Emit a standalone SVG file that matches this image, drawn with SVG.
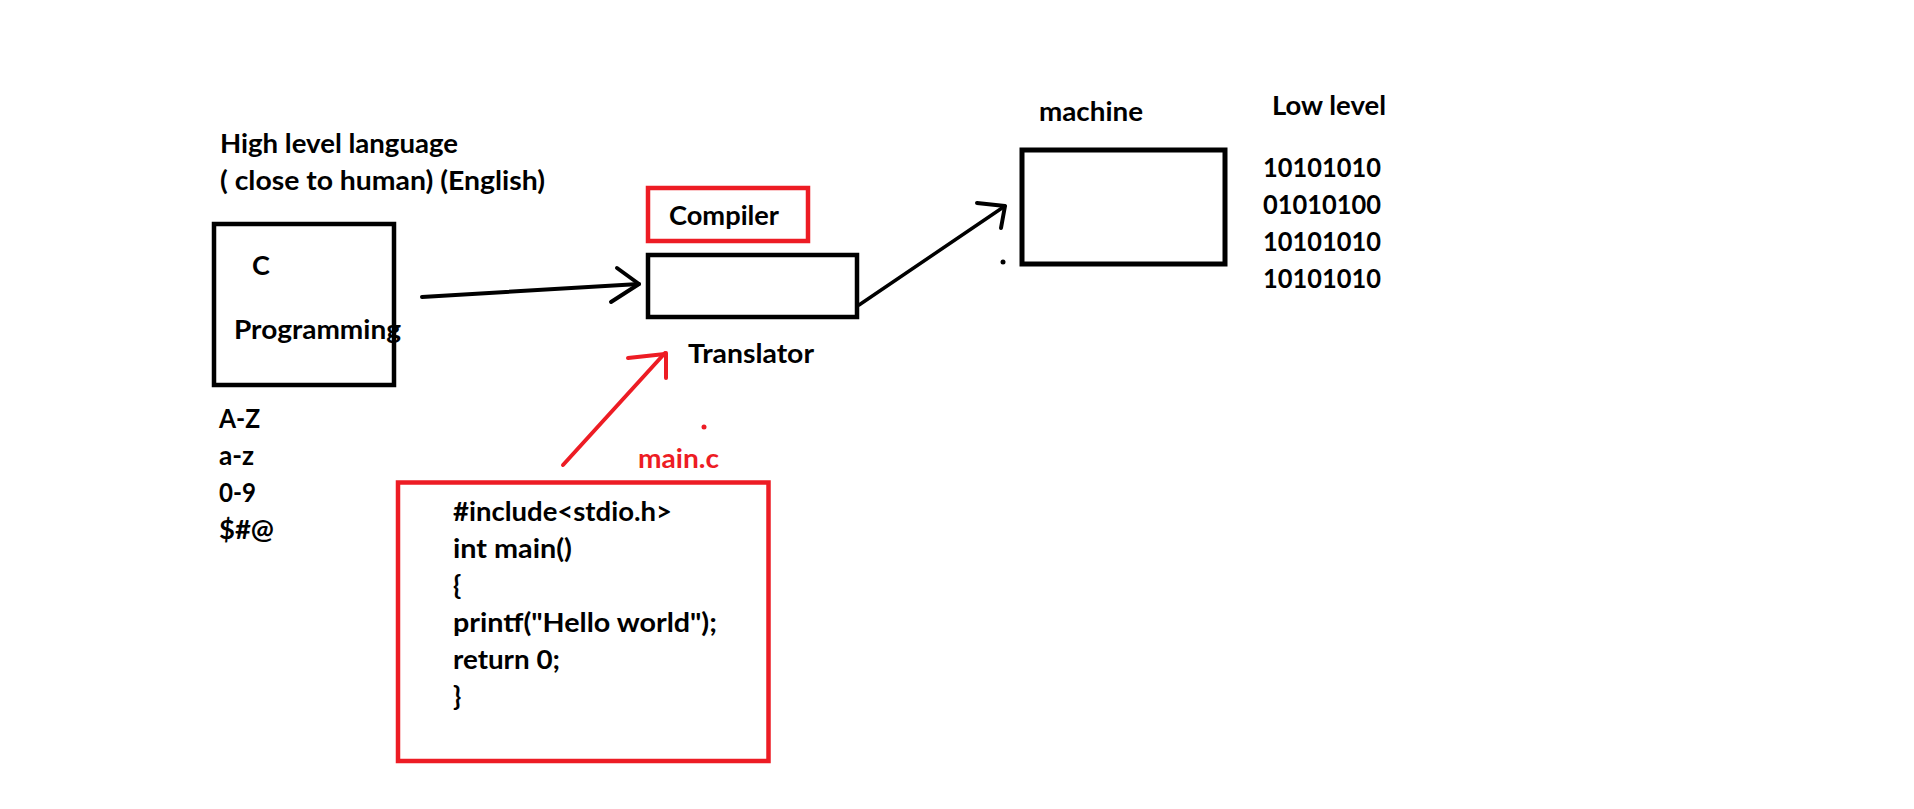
<svg xmlns="http://www.w3.org/2000/svg" width="1914" height="809" viewBox="0 0 1914 809">
<style>
.t{font-family:Lato,"Open Sans","Liberation Sans",sans-serif;font-weight:700;font-size:27px;fill:#000}
.r{fill:#ED1C24}
.bx{fill:none;stroke:#000;stroke-width:4.5}
.rb{fill:none;stroke:#ED1C24;stroke-width:4.5}
.ln{fill:none;stroke:#000;stroke-width:4;stroke-linecap:round;stroke-linejoin:round}
.rl{fill:none;stroke:#ED1C24;stroke-width:4;stroke-linecap:round;stroke-linejoin:round}
</style>
<rect width="1914" height="809" fill="#fff"/>
<g id="high-level-label">
<text class="t" x="220" y="153" textLength="238" lengthAdjust="spacingAndGlyphs">High level language</text>
<text class="t" x="220" y="190" textLength="325" lengthAdjust="spacingAndGlyphs">( close to human) (English)</text>
</g>
<g id="c-programming">
<rect class="bx" x="214" y="224" width="180" height="161"/>
<text class="t" x="252" y="275">C</text>
<text class="t" x="234" y="339" textLength="167" lengthAdjust="spacingAndGlyphs">Programming</text>
</g>
<g id="charset">
<text class="t" x="219" y="428" textLength="41" lengthAdjust="spacingAndGlyphs">A-Z</text>
<text class="t" x="219" y="465" textLength="35" lengthAdjust="spacingAndGlyphs">a-z</text>
<text class="t" x="219" y="502" textLength="37" lengthAdjust="spacingAndGlyphs">0-9</text>
<text class="t" x="219" y="539" textLength="55" lengthAdjust="spacingAndGlyphs">$#@</text>
</g>
<g id="compiler">
<rect class="rb" x="648" y="188" width="160" height="53"/>
<text class="t" x="669" y="225" textLength="110" lengthAdjust="spacingAndGlyphs">Compiler</text>
</g>
<g id="translator">
<rect class="bx" x="648" y="255" width="209" height="62"/>
<text class="t" x="688" y="363" textLength="126" lengthAdjust="spacingAndGlyphs">Translator</text>
</g>
<g id="main-c">
<text class="t r" x="638" y="468" textLength="81" lengthAdjust="spacingAndGlyphs">main.c</text>
<rect class="rb" x="398" y="482.5" width="370.5" height="278.5"/>
<text class="t" x="453" y="521" textLength="219" lengthAdjust="spacingAndGlyphs">#include&lt;stdio.h&gt;</text>
<text class="t" x="453" y="558" textLength="119" lengthAdjust="spacingAndGlyphs">int main()</text>
<text class="t" x="453" y="595">{</text>
<text class="t" x="453" y="632" textLength="264" lengthAdjust="spacingAndGlyphs">printf("Hello world");</text>
<text class="t" x="453" y="669" textLength="107" lengthAdjust="spacingAndGlyphs">return 0;</text>
<text class="t" x="453" y="706">}</text>
</g>
<g id="machine">
<text class="t" x="1039" y="121" textLength="104" lengthAdjust="spacingAndGlyphs">machine</text>
<rect class="bx" x="1022" y="150" width="203" height="114" style="stroke-width:5"/>
</g>
<g id="low-level">
<text class="t" x="1272" y="115" textLength="114" lengthAdjust="spacingAndGlyphs">Low level</text>
<text class="t" x="1263" y="177" textLength="118" lengthAdjust="spacingAndGlyphs">10101010</text>
<text class="t" x="1263" y="214" textLength="118" lengthAdjust="spacingAndGlyphs">01010100</text>
<text class="t" x="1263" y="251" textLength="118" lengthAdjust="spacingAndGlyphs">10101010</text>
<text class="t" x="1263" y="288" textLength="118" lengthAdjust="spacingAndGlyphs">10101010</text>
</g>
<g id="connectors">
<path class="ln" d="M422,297 L639,284"/>
<path class="ln" d="M617,268 L639,284 L611,302"/>
<path class="ln" d="M859,305 L1005,206" style="stroke-width:3.5"/>
<path class="ln" d="M977,203 L1005,206 L1001,228"/>
<path class="rl" d="M563,465 L665,353"/>
<path class="rl" d="M628,358 L665,354"/>
<path class="rl" d="M666,353 L666,378"/>
</g>
<g id="dots">
<circle cx="1003" cy="262" r="2.5" fill="#000"/>
<circle cx="704" cy="427" r="2.5" fill="#ED1C24"/>
</g>
</svg>
